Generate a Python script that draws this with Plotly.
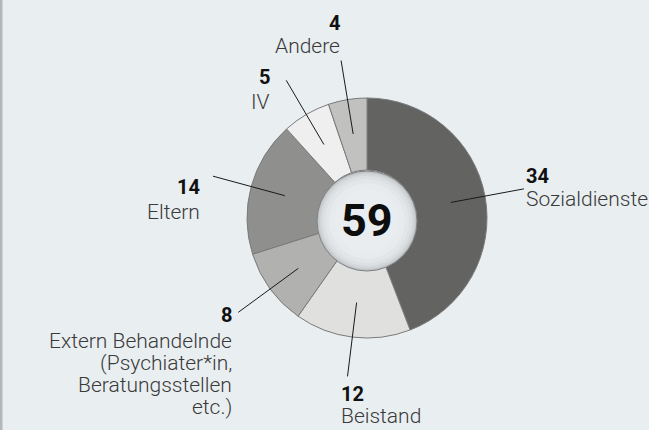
import math
import plotly.graph_objects as go

# ---------------- data ----------------
categories = ["Sozialdienste", "Beistand",
              "Extern Behandelnde<br>(Psychiater*in,<br>Beratungsstellen<br>etc.)",
              "Eltern", "IV", "Andere"]
values = [34, 12, 8, 14, 5, 4]
center_total = 59
colors = ["#636362", "#e0e0df", "#b1b1b0", "#8f8f8e", "#efefef", "#c1c1c0"]

# ---------------- layout constants ----------------
W, H = 649, 430
CX, CY, R = 367, 218, 120
BG = "#e9eef1"
FONT = "Roboto"
LINE_H = 22

# label placement (pixel) : (x, number centre y, first label line centre y, xanchor)
label_pos = [
    (524, 176, 199, "left"),
    (339, 394, 416, "left"),
    (234, 315, 341, "right"),
    (202, 187, 212, "right"),
    (272, 77, 102, "right"),
    (342, 23, 46, "right"),
]

def px(x):
    return x / W

def py(y):
    return 1 - y / H

fig = go.Figure()
fig.add_trace(go.Pie(
    values=values, labels=[c.replace("<br>", " ") for c in categories],
    sort=False, direction="clockwise",
    rotation=0, hole=0.4, textinfo="none", hoverinfo="label+value",
    marker=dict(colors=colors, line=dict(color="#7a7a7a", width=1)),
    domain=dict(x=[px(CX - R), px(CX + R)], y=[py(CY + R), py(CY - R)]),
    showlegend=False,
))

shapes = []
# left border stripe
shapes.append(dict(type="rect", xref="paper", yref="paper", x0=0, x1=px(2.5), y0=0, y1=1,
                   fillcolor="#b3b7ba", line=dict(width=0), layer="below"))

# leader lines computed from slice mid-angles
total = sum(values)
cum = 0
for v in values:
    mid = (cum + v / 2) / total * 2 * math.pi
    cum += v
    r1, r2 = 0.71 * R, 1.33 * R
    x1, y1 = CX + r1 * math.sin(mid), CY - r1 * math.cos(mid)
    x2, y2 = CX + r2 * math.sin(mid), CY - r2 * math.cos(mid)
    shapes.append(dict(type="line", xref="paper", yref="paper",
                       x0=px(x1), y0=py(y1), x1=px(x2), y1=py(y2),
                       line=dict(color="#1a1a1a", width=1)))

# centre disk with radial shading
DCX, DCY = 367, 221
disk = [(50, "#bfc3c5"), (48.5, "#caced0"), (47, "#d4d8da"), (45, "#dce0e2"),
        (42, "#e2e6e8"), (38, "#e7ebed"), (32, "#e9edf0")]
for i, (rr, col) in enumerate(disk):
    shapes.append(dict(type="circle", xref="paper", yref="paper",
                       xsizemode="pixel", ysizemode="pixel",
                       xanchor=px(DCX), yanchor=py(DCY),
                       x0=-rr, x1=rr, y0=-rr, y1=rr,
                       fillcolor=col,
                       line=dict(color="#7d8183" if i == 0 else col, width=1 if i == 0 else 0)))

annotations = []
for (x, ny, ly, anchor), cat, v in zip(label_pos, categories, values):
    annotations.append(dict(x=px(x), y=py(ny), xref="paper", yref="paper",
                            text=f"<b>{v}</b>", showarrow=False,
                            xanchor=anchor, yanchor="middle", align=anchor,
                            font=dict(family=FONT, size=20, color="#111111")))
    for k, line in enumerate(cat.split("<br>")):
        annotations.append(dict(x=px(x), y=py(ly + k * LINE_H), xref="paper", yref="paper",
                                text=line, showarrow=False,
                                xanchor=anchor, yanchor="middle", align=anchor,
                                font=dict(family=FONT, size=21, color="#3a3a3a", weight=300)))

annotations.append(dict(x=px(DCX), y=py(DCY), xref="paper", yref="paper",
                        text=f"<b>{center_total}</b>", showarrow=False,
                        xanchor="center", yanchor="middle",
                        font=dict(family=FONT, size=45, color="#0d0d0d")))

fig.update_layout(
    width=W, height=H, margin=dict(l=0, r=0, t=0, b=0),
    paper_bgcolor=BG, plot_bgcolor=BG,
    shapes=shapes, annotations=annotations,
)

fig.write_html("out.html", config={"displayModeBar": False},
               post_script="document.body.style.margin='0';document.body.style.padding='0';")
